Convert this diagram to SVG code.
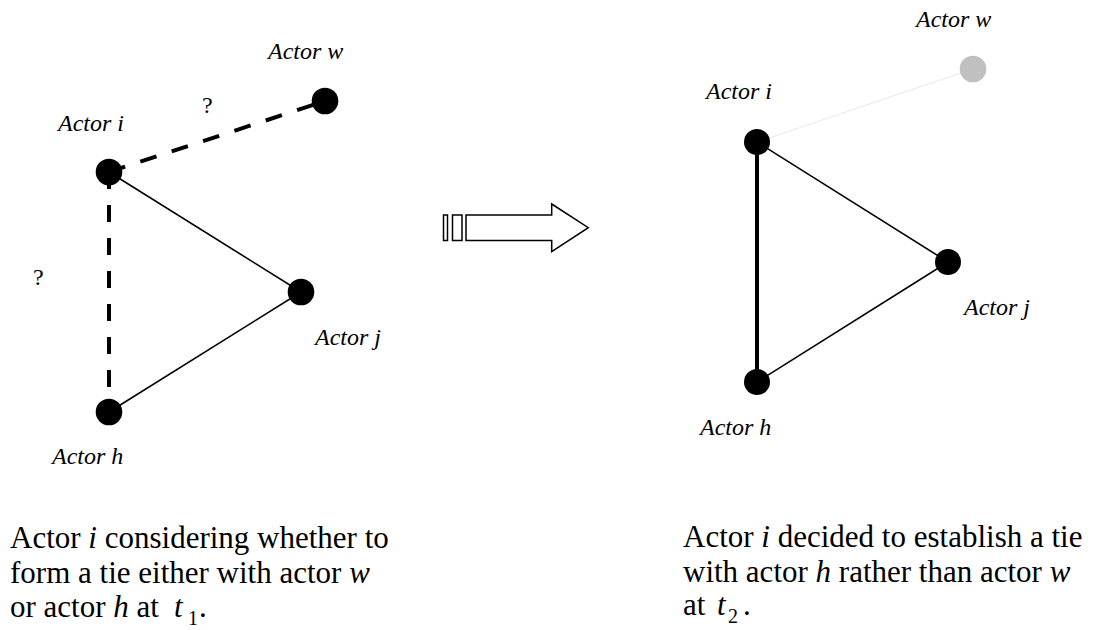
<svg xmlns="http://www.w3.org/2000/svg" width="1098" height="630" viewBox="0 0 1098 630">
<style>
.lbl{font-family:"Liberation Serif",serif;font-style:italic;font-size:24px;fill:#000}
.q{font-family:"Liberation Serif",serif;font-size:24px;fill:#000}
.cap{font-family:"Liberation Serif",serif;font-size:31px;fill:#000}
.it{font-style:italic}
.sub{font-size:20px}
.node{fill:#000}
.thin{stroke:#000;stroke-width:1.6;fill:none}
.dash{stroke:#000;stroke-width:4;stroke-dasharray:17 16;fill:none}
.thick{stroke:#000;stroke-width:4;fill:none}
.faint{stroke:#e8e8e8;stroke-width:1;fill:none}
.arrow{fill:#fff;stroke:#000;stroke-width:1.5}
</style>
<rect width="1098" height="630" fill="#fff"/>
<g id="connectors">
  <line class="dash" x1="109" y1="172" x2="325" y2="101"/>
  <line class="dash" x1="109" y1="172" x2="109" y2="412"/>
  <line class="thin" x1="109" y1="172" x2="301" y2="292"/>
  <line class="thin" x1="301" y1="292" x2="109" y2="412"/>
  <line class="faint" x1="757" y1="142" x2="973" y2="69"/>
  <line class="thick" x1="757" y1="142" x2="757" y2="382"/>
  <line class="thin" x1="757" y1="142" x2="948" y2="262"/>
  <line class="thin" x1="948" y1="262" x2="757" y2="382"/>
</g>
<g id="left-i"><circle class="node" cx="109" cy="172" r="13.3"/><text class="lbl" x="58" y="131">Actor i</text></g>
<g id="left-w"><circle class="node" cx="325" cy="101" r="13.3"/><text class="lbl" x="268" y="59">Actor w</text></g>
<g id="left-j"><circle class="node" cx="301" cy="292" r="13.3"/><text class="lbl" x="315" y="345">Actor j</text></g>
<g id="left-h"><circle class="node" cx="109" cy="412" r="13.3"/><text class="lbl" x="52" y="464">Actor h</text></g>
<g id="q1"><text class="q" x="202" y="113">?</text></g>
<g id="q2"><text class="q" x="33" y="285">?</text></g>
<g id="transition">
  <rect class="arrow" x="443.5" y="215" width="4" height="25.5"/>
  <rect class="arrow" x="452.5" y="215" width="9.5" height="25.5"/>
  <path class="arrow" d="M466,215 L551.7,215 L551.7,204 L588.3,227.7 L551.7,251.7 L551.7,240.5 L466,240.5 Z"/>
</g>
<g id="right-i"><circle class="node" cx="757" cy="142" r="13"/><text class="lbl" x="706" y="99">Actor i</text></g>
<g id="right-w"><circle cx="973" cy="69" r="13.3" fill="#c0c0c0"/><text class="lbl" x="916" y="27">Actor w</text></g>
<g id="right-j"><circle class="node" cx="948" cy="262" r="13"/><text class="lbl" x="964" y="315">Actor j</text></g>
<g id="right-h"><circle class="node" cx="757" cy="382" r="13"/><text class="lbl" x="700" y="435">Actor h</text></g>
<g id="caption-left">
  <text class="cap" x="10" y="548">Actor <tspan class="it">i</tspan> considering whether to</text>
  <text class="cap" x="10" y="583">form a tie either with actor <tspan class="it">w</tspan></text>
  <text class="cap" x="10" y="617">or actor <tspan class="it">h</tspan> at</text>
  <text class="cap it" x="174" y="617">t</text>
  <text class="cap sub" x="188" y="625">1</text>
  <text class="cap" x="199" y="617">.</text>
</g>
<g id="caption-right">
  <text class="cap" x="683" y="547">Actor <tspan class="it">i</tspan> decided to establish a tie</text>
  <text class="cap" x="683" y="582">with actor <tspan class="it">h</tspan> rather than actor <tspan class="it">w</tspan></text>
  <text class="cap" x="683" y="615">at</text>
  <text class="cap it" x="717" y="615">t</text>
  <text class="cap sub" x="728" y="623">2</text>
  <text class="cap" x="743" y="615">.</text>
</g>
</svg>
